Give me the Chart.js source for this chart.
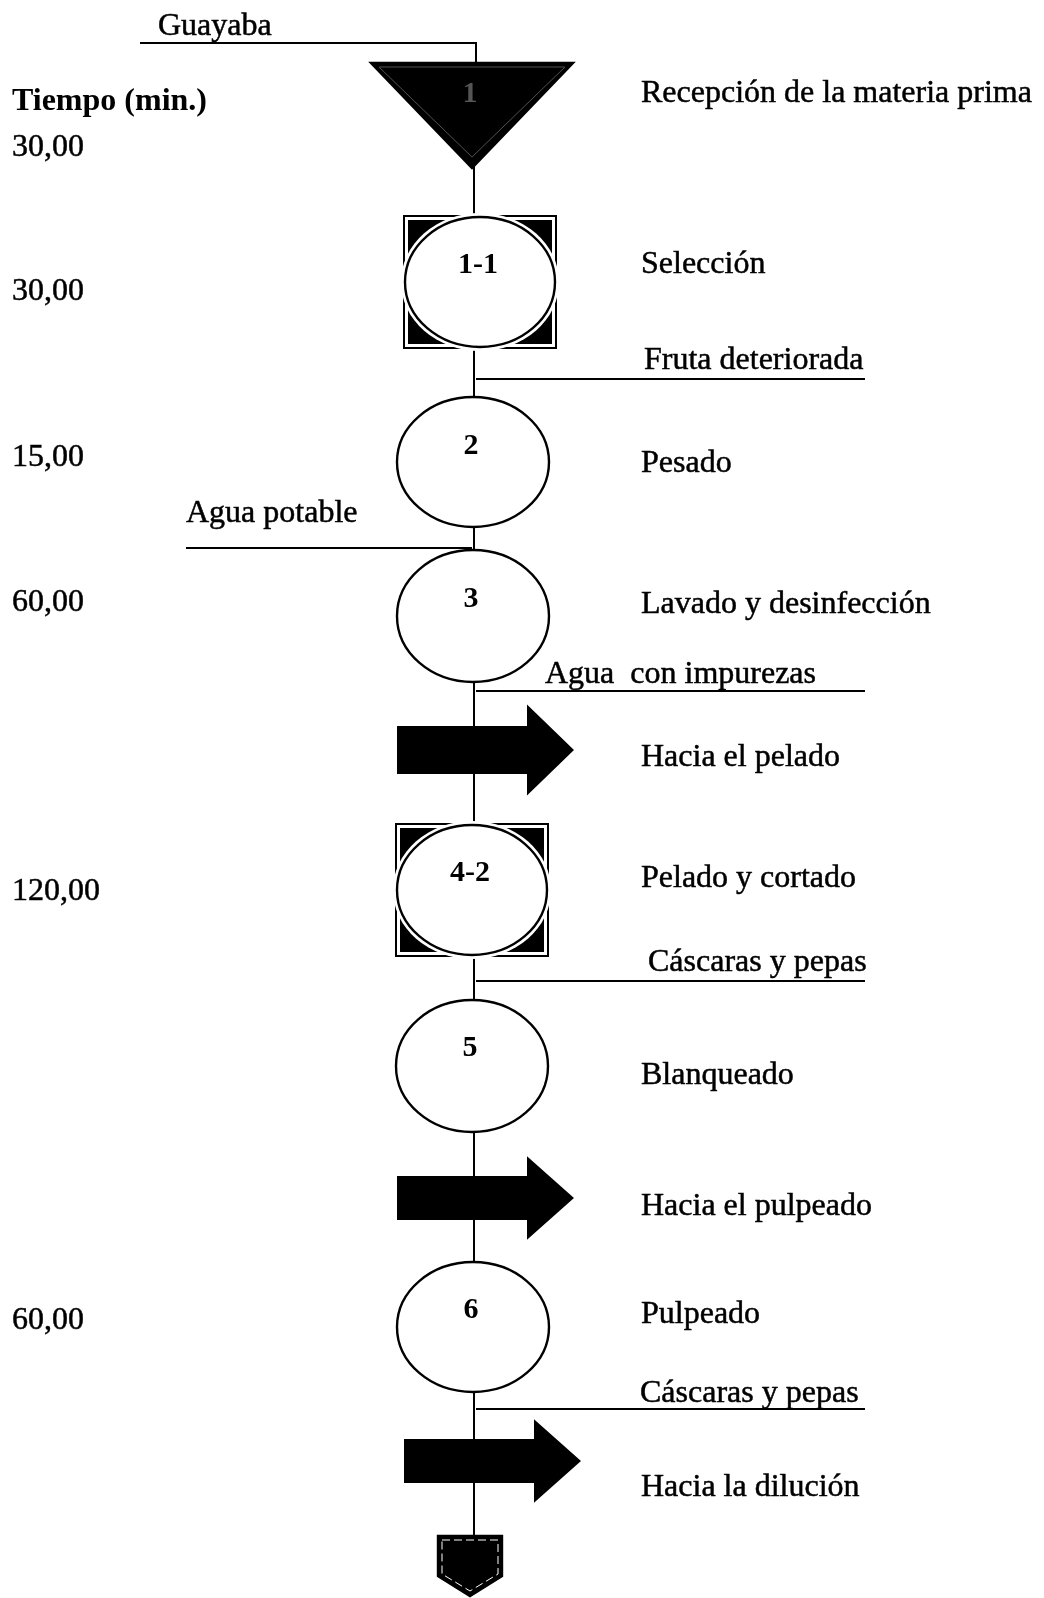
<!DOCTYPE html>
<html>
<head>
<meta charset="utf-8">
<script src="https://cdn.jsdelivr.net/npm/chart.js@4.4.1/dist/chart.umd.min.js"></script>
<style>
  html, body { margin: 0; padding: 0; background: #fff; }
  canvas { display: block; }
</style>
</head>
<body>
<canvas id="flow" width="1044" height="1598"></canvas>
<script>
// process steps (top to bottom)
const stepIds = ['1', '1-1', '2', '3', '', '4-2', '5', '', '6', '', ''];
const stepKinds = ['storage', 'combined', 'operation', 'operation', 'transport', 'combined', 'operation', 'transport', 'operation', 'transport', 'connector'];
const stepNames = ['Recepción de la materia prima', 'Selección', 'Pesado', 'Lavado y desinfección', 'Hacia el pelado',
    'Pelado y cortado', 'Blanqueado', 'Hacia el pulpeado', 'Pulpeado', 'Hacia la dilución', ''];
const stepTimes = [30, 30, 15, 60, null, 120, null, null, 60, null, null];

// streams going in / out of the line
const streamNames = ['Guayaba', 'Fruta deteriorada', 'Agua potable', 'Agua  con impurezas', 'Cáscaras y pepas', 'Cáscaras y pepas'];

const timeTitle = 'Tiempo (min.)';

// layout (chart units = px, y axis reversed)
const mainX = 474;
const nodeX = [472, 480, 473, 473, 473, 472, 472, 473, 473, 480, 470];
const nodeY = [115, 282, 462, 616, 750, 890, 1066, 1198, 1327, 1461, 1566];
const nodeRy = [52, 66, 65, 66, 24, 66, 66, 22, 65, 22, 30];
const idY = [94, 265, 446, 599, null, 873, 1048, null, 1310, null, null];
const nameY = [94, 265, 464, 605, 758, 879, 1076, 1207, 1315, 1488, null];
const timeY = [148, 292, 458, 603, null, 892, null, null, 1321, null, null];
const streamText = [[158, 27], [644, 361], [186, 514], [545, 675], [648, 963], [640, 1394]];
const streamLines = [
    [[140, 43], [476, 43], [476, 63]],
    [[476, 379], [865, 379]],
    [[186, 548], [472, 548]],
    [[476, 691], [865, 691]],
    [[476, 981], [865, 981]],
    [[476, 1409], [865, 1409]]
];

const serif = '"Liberation Serif", "Times New Roman", serif';

const datasets = [];
datasets.push({
    data: [{ x: mainX, y: 63 }, { x: mainX, y: 1536 }],
    showLine: true, borderColor: '#000', borderWidth: 2, pointRadius: 0
});
for (let line of streamLines){
    datasets.push({
        data: line.map(p => ({ x: p[0], y: p[1] })),
        showLine: true, borderColor: '#000', borderWidth: 2, pointRadius: 0
    });
}
datasets.push({
    label: 'nodes',
    data: nodeX.map((x, i) => ({ x: x, y: nodeY[i] })),
    showLine: false, pointRadius: 0
});

function fmtTime(v){
    return v.toFixed(2).replace('.', ',');
}

function darkText(ctx, text, x, y){
    ctx.fillText(text, x, y);
    ctx.lineWidth = 0.5;
    ctx.strokeStyle = ctx.fillStyle;
    ctx.strokeText(text, x, y);
}

const flowPlugin = {
    id: 'flow',
    afterDatasetsDraw(chart){
        const ctx = chart.ctx;
        const xs = chart.scales.x;
        const ys = chart.scales.y;
        const px = v => xs.getPixelForValue(v);
        const py = v => ys.getPixelForValue(v);
        const meta = chart.getDatasetMeta(chart.data.datasets.length - 1);
        ctx.save();
        ctx.lineJoin = 'miter';

        meta.data.forEach((pt, i) => {
            const cx = pt.x;
            const cy = pt.y;
            const ry = py(nodeY[i] + nodeRy[i]) - cy;
            const kind = stepKinds[i];
            ctx.lineWidth = 2.4;
            ctx.strokeStyle = '#000';
            if (kind === 'storage'){
                const hw = px(nodeX[i] + 101) - cx;
                ctx.beginPath();
                ctx.moveTo(cx - hw, cy - ry);
                ctx.lineTo(cx + hw, cy - ry);
                ctx.lineTo(cx, cy + ry + 1);
                ctx.closePath();
                ctx.fillStyle = '#000';
                ctx.fill();
                ctx.stroke();
                ctx.beginPath();
                ctx.moveTo(cx - hw + 8, cy - ry + 4);
                ctx.lineTo(cx + hw - 8, cy - ry + 4);
                ctx.lineTo(cx, cy + ry - 10);
                ctx.closePath();
                ctx.strokeStyle = '#666';
                ctx.lineWidth = 0.8;
                ctx.stroke();
            } else if (kind === 'combined'){
                const hw = px(nodeX[i] + 76) - cx;
                ctx.fillStyle = '#fff';
                ctx.fillRect(cx - hw, cy - ry, hw * 2, ry * 2);
                ctx.lineWidth = 2;
                ctx.strokeRect(cx - hw, cy - ry, hw * 2, ry * 2);
                ctx.fillStyle = '#000';
                ctx.fillRect(cx - hw + 4, cy - ry + 4, hw * 2 - 8, ry * 2 - 8);
                ctx.beginPath();
                ctx.ellipse(cx, cy, hw + 3, ry + 3, 0, 0, Math.PI * 2);
                ctx.fillStyle = '#fff';
                ctx.fill();
                ctx.beginPath();
                ctx.ellipse(cx, cy, hw - 1, ry - 1, 0, 0, Math.PI * 2);
                ctx.fillStyle = '#fff';
                ctx.fill();
                ctx.strokeStyle = '#000';
                ctx.lineWidth = 2.4;
                ctx.stroke();
            } else if (kind === 'operation'){
                const rx = px(nodeX[i] + 76) - cx;
                ctx.beginPath();
                ctx.ellipse(cx, cy, rx, ry, 0, 0, Math.PI * 2);
                ctx.fillStyle = '#fff';
                ctx.fill();
                ctx.stroke();
            } else if (kind === 'transport'){
                const left = px(nodeX[i] - 76);
                const neck = px(nodeX[i] + 54);
                const tip = px(nodeX[i] + 101);
                const head = ry * 1.9;
                ctx.beginPath();
                ctx.moveTo(left, cy - ry);
                ctx.lineTo(neck, cy - ry);
                ctx.lineTo(neck, cy - head);
                ctx.lineTo(tip, cy);
                ctx.lineTo(neck, cy + head);
                ctx.lineTo(neck, cy + ry);
                ctx.lineTo(left, cy + ry);
                ctx.closePath();
                ctx.fillStyle = '#000';
                ctx.fill();
            } else if (kind === 'connector'){
                const hw = px(nodeX[i] + 32) - cx;
                ctx.beginPath();
                ctx.moveTo(cx - hw, cy - ry);
                ctx.lineTo(cx + hw, cy - ry);
                ctx.lineTo(cx + hw, cy + ry - 20);
                ctx.lineTo(cx, cy + ry);
                ctx.lineTo(cx - hw, cy + ry - 20);
                ctx.closePath();
                ctx.fillStyle = '#000';
                ctx.fill();
                ctx.stroke();
                ctx.beginPath();
                ctx.moveTo(cx - hw + 4, cy - ry + 4);
                ctx.lineTo(cx + hw - 4, cy - ry + 4);
                ctx.lineTo(cx + hw - 4, cy + ry - 22);
                ctx.lineTo(cx, cy + ry - 5);
                ctx.lineTo(cx - hw + 4, cy + ry - 22);
                ctx.closePath();
                ctx.strokeStyle = '#fff';
                ctx.lineWidth = 1;
                ctx.setLineDash([8, 4]);
                ctx.stroke();
                ctx.setLineDash([]);
            }

            // step number
            if (stepIds[i] && idY[i] !== null){
                ctx.textAlign = 'center';
                ctx.textBaseline = 'middle';
                ctx.font = 'bold 30px ' + serif;
                ctx.fillStyle = kind === 'storage' ? '#555' : '#000';
                ctx.fillText(stepIds[i], cx - 2, py(idY[i]));
            }
            // step name
            if (stepNames[i]){
                ctx.textAlign = 'left';
                ctx.textBaseline = 'middle';
                ctx.font = '32px ' + serif;
                ctx.fillStyle = '#000';
                darkText(ctx, stepNames[i], px(641), py(nameY[i]));
            }
            // time
            if (stepTimes[i] !== null){
                ctx.textAlign = 'left';
                ctx.textBaseline = 'middle';
                ctx.font = '32px ' + serif;
                ctx.fillStyle = '#000';
                darkText(ctx, fmtTime(stepTimes[i]), px(12), py(timeY[i]));
            }
        });

        ctx.textAlign = 'left';
        ctx.textBaseline = 'middle';
        ctx.fillStyle = '#000';
        ctx.font = 'bold 32px ' + serif;
        ctx.fillText(timeTitle, px(12), py(102));

        ctx.font = '32px ' + serif;
        streamNames.forEach((name, i) => {
            darkText(ctx, name, px(streamText[i][0]), py(streamText[i][1]));
        });
        ctx.restore();
    }
};

const ctx = document.getElementById('flow').getContext('2d');
// eslint-disable-next-line no-undef
new Chart(ctx, {
    type: 'scatter',
    data: { datasets: datasets },
    options: {
        responsive: false,
        animation: false,
        devicePixelRatio: 1,
        layout: { padding: 0 },
        plugins: { legend: { display: false }, tooltip: { enabled: false } },
        scales: {
            x: { type: 'linear', min: 0, max: 1044, display: false },
            y: { type: 'linear', min: 0, max: 1598, reverse: true, display: false }
        }
    },
    plugins: [flowPlugin]
});
</script>
</body>
</html>
